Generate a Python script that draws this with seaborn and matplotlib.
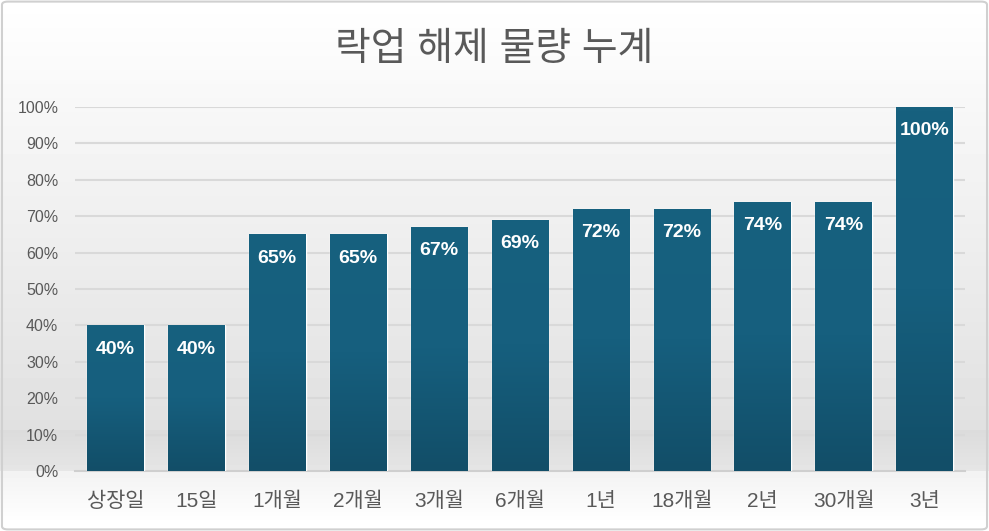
import numpy as np
import pandas as pd
import seaborn as sns
import matplotlib.pyplot as plt
from matplotlib.patches import FancyBboxPatch
from matplotlib.colors import LinearSegmentedColormap

periods = ['상장일', '15일', '1개월', '2개월', '3개월', '6개월', '1년', '18개월', '2년', '30개월', '3년']
cum_share = [0.40, 0.40, 0.65, 0.65, 0.67, 0.69, 0.72, 0.72, 0.74, 0.74, 1.00]
yticks = [0.0, 0.1, 0.2, 0.3, 0.4, 0.5, 0.6, 0.7, 0.8, 0.9, 1.0]

df = pd.DataFrame({'period': periods, 'share': cum_share})

sns.set_theme(style='white')
plt.rcParams['font.family'] = ['Liberation Sans', 'Noto Sans CJK KR', 'DejaVu Sans']

fig = plt.figure(figsize=(9.89, 5.31), dpi=100)

# background gradient for the whole figure
bg = fig.add_axes([0, 0, 1, 1], zorder=-5)
rows = np.linspace(0, 1, 531)
vals = np.ones_like(rows)
for i, r in enumerate(rows):
    px = r * 531
    if px < 430:
        vals[i] = 1.0 - 0.12 * (px / 430)
    elif px < 471:
        vals[i] = 0.86 + 0.04 * ((px - 430) / 41)
    elif px < 525:
        vals[i] = 0.95 + 0.05 * ((px - 471) / 54)
    else:
        vals[i] = 1.0
bg.imshow(vals.reshape(-1, 1), aspect='auto', cmap='gray', vmin=0, vmax=1,
          extent=[0, 1, 0, 1], origin='upper')
bg.set_xlim(0, 1)
bg.set_ylim(0, 1)
bg.axis('off')

border = FancyBboxPatch((0.002, 0.003), 0.996, 0.994, boxstyle='round,pad=0,rounding_size=0.006',
                        transform=fig.transFigure, fill=False, edgecolor='#d0d0d0', linewidth=1.5)
fig.patches.append(border)

ax = fig.add_axes([75 / 989, 60 / 531, 890 / 989, 364 / 531])
ax.patch.set_alpha(0)

sns.barplot(data=df, x='period', y='share', color='#16607f', width=0.7, ax=ax, zorder=3)

grad = LinearSegmentedColormap.from_list('bar', ['#124e68', '#165f7e', '#17617f'])
for p in ax.patches:
    x0, y0 = p.get_x(), p.get_y()
    w, h = p.get_width(), p.get_height()
    img = ax.imshow(np.linspace(0, 1, 100).reshape(-1, 1), cmap=grad, aspect='auto',
                    extent=[x0, x0 + w, y0, y0 + h], origin='lower', zorder=4)
    img.set_clip_path(p)

for i, v in enumerate(cum_share):
    ax.annotate(f'{v:.0%}', (i, v), xytext=(0, -17), textcoords='offset points',
                ha='center', va='center', color='white', fontsize=14, fontweight='bold', zorder=6)

ax.set_xlim(-0.5, len(periods) - 0.5)
ax.set_ylim(0, 1.0)
ax.set_yticks(yticks)
ax.set_yticklabels([f'{t:.0%}' for t in yticks])
ax.yaxis.grid(True, color='#d9d9d9', linewidth=1.5, zorder=0)
ax.set_axisbelow(True)
for s in ['top', 'right', 'left']:
    ax.spines[s].set_visible(False)
ax.spines['bottom'].set_color('#cfcfcf')
ax.spines['bottom'].set_linewidth(1.5)
ax.tick_params(axis='x', length=0, pad=15, labelsize=15, labelcolor='#595959')
ax.tick_params(axis='y', length=0, pad=12, labelsize=11.5, labelcolor='#595959')
ax.set_xlabel('')
ax.set_ylabel('')

fig.text(0.5, 1 - 50 / 531, '락업 해제 물량 누계', ha='center', va='center',
         fontsize=28, color='#595959')

fig.savefig('out.png', dpi=100)
